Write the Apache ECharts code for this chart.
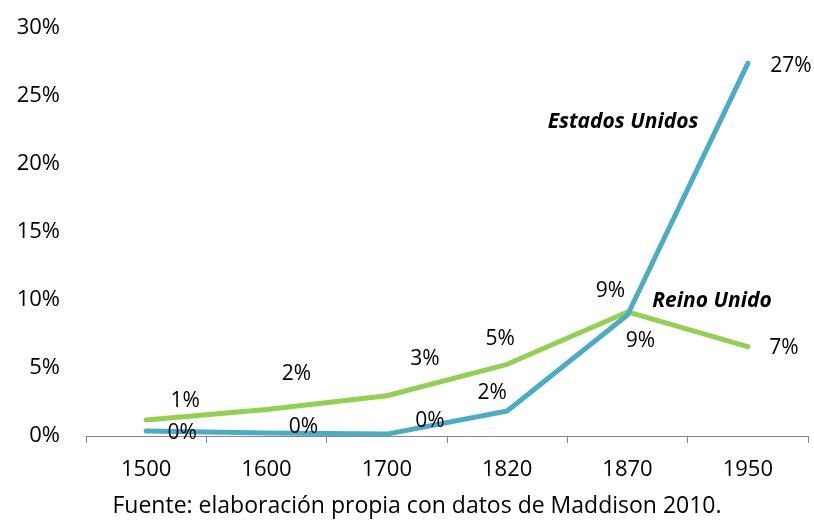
<!DOCTYPE html>
<html><head><meta charset="utf-8">
<script src="https://cdn.jsdelivr.net/npm/echarts@6/dist/echarts.min.js"></script>
<style>html,body{margin:0;padding:0;background:#fff}#c{width:814px;height:520px}</style>
</head><body><div id="c"></div>
<script>
const categories = ['1500','1600','1700','1820','1870','1950'];
const seriesNames = ['Reino Unido','Estados Unidos'];
const reinoUnido = [1.18, 1.95, 2.96, 5.27, 9.12, 6.57];
const estadosUnidos = [0.37, 0.22, 0.14, 1.84, 8.9, 27.4];
const reinoUnidoLabels = ['1%','2%','3%','5%','9%','7%'];
const estadosUnidosLabels = ['0%','0%','0%','2%','9%','27%'];
const yTicks = [0,5,10,15,20,25,30];
const sourceNote = 'Fuente: elaboración propia con datos de Maddison 2010.';

// label offsets (style only)
const ruOffsets = [[39,-19],[30,-35],[38,-37],[-7,-25],[-17,-21],[36,1]];
const euOffsets = [[36,2],[37,-6],[43,-13],[-15,-18],[13,26],[43,3]];

const font = '"Open Sans", "Liberation Sans", sans-serif';
function mk(vals, labels, offs){
  return vals.map((v,i)=>({value:v, label:{show:true, position:'inside', offset:offs[i], formatter:labels[i]}}));
}
const chart = echarts.init(document.getElementById('c'));
chart.setOption({
  animation:false,
  grid:{left:86,right:6,top:28,bottom:84},
  xAxis:{type:'category',data:categories,boundaryGap:true,
    axisLine:{lineStyle:{color:'#868686',width:1}},
    axisTick:{show:true,length:7,lineStyle:{color:'#868686'}},
    axisLabel:{color:'#000',fontSize:22,fontFamily:font,margin:23}},
  yAxis:{type:'value',min:yTicks[0],max:yTicks[yTicks.length-1],interval:5,
    axisLine:{show:false},axisTick:{show:false},splitLine:{show:false},
    axisLabel:{color:'#000',fontSize:22,fontFamily:font,margin:26,formatter:v=>v+'%'}},
  series:[
    {name:seriesNames[0],type:'line',data:mk(reinoUnido,reinoUnidoLabels,ruOffsets),
     symbol:'circle',symbolSize:0.1,showSymbol:true,
     lineStyle:{color:'#92D050',width:5,cap:'round',join:'round'},itemStyle:{color:'#92D050'},
     label:{color:'#000',fontSize:21,fontFamily:font}},
    {name:seriesNames[1],type:'line',data:mk(estadosUnidos,estadosUnidosLabels,euOffsets),
     symbol:'circle',symbolSize:0.1,showSymbol:true,
     lineStyle:{color:'#4BACC6',width:5,cap:'round',join:'round'},itemStyle:{color:'#4BACC6'},
     label:{color:'#000',fontSize:21,fontFamily:font}}
  ],
  graphic:[
    {type:'text',x:417,y:506,style:{text:sourceNote,fill:'#000',font:'23px '+font,align:'center',verticalAlign:'middle'}},
    {type:'text',x:623,y:122,style:{text:seriesNames[1],fill:'#000',font:'italic bold 21px '+font,align:'center',verticalAlign:'middle'}},
    {type:'text',x:712,y:301,style:{text:seriesNames[0],fill:'#000',font:'italic bold 21px '+font,align:'center',verticalAlign:'middle'}}
  ]
});
</script></body></html>
